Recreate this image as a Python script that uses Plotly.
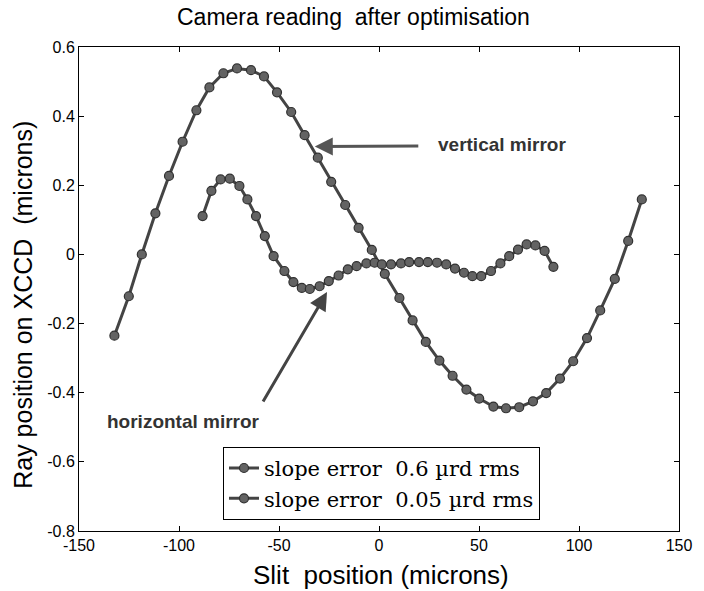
import plotly.graph_objects as go

# Vertical mirror (slope error 0.6 µrd rms)
vert_x = [-132.3, -125.1, -118.6, -111.8, -105.0, -98.2, -91.3, -84.8, -77.8, -71.0,
          -64.0, -57.5, -51.0, -43.9, -37.2, -30.6, -23.9, -16.9, -10.2, -3.6,
          2.9, 10.2, 16.8, 23.4, 30.2, 36.8, 43.7, 50.1, 57.2, 63.5,
          70.1, 77.0, 83.6, 90.5, 97.1, 104.0, 110.6, 117.9, 124.6, 131.4]
vert_y = [-0.235, -0.121, 0.000, 0.119, 0.227, 0.326, 0.417, 0.483, 0.524, 0.538,
          0.533, 0.515, 0.469, 0.412, 0.345, 0.280, 0.210, 0.143, 0.077, 0.013,
          -0.056, -0.126, -0.191, -0.253, -0.307, -0.351, -0.391, -0.417, -0.440, -0.445,
          -0.442, -0.425, -0.401, -0.359, -0.309, -0.242, -0.162, -0.071, 0.039, 0.159]

# Horizontal mirror (slope error 0.05 µrd rms)
hor_x = [-88.2, -83.8, -79.2, -74.6, -69.8, -65.8, -61.5, -57.1, -52.7, -47.3,
         -42.8, -38.6, -34.6, -29.7, -25.1, -20.2, -15.6, -11.2, -6.3, -2.2,
         1.4, 6.0, 11.0, 15.1, 20.0, 24.4, 29.0, 33.6, 38.0, 42.5,
         46.7, 51.1, 56.0, 60.7, 65.1, 69.5, 73.8, 78.2, 82.8, 87.2]
hor_y = [0.111, 0.184, 0.217, 0.219, 0.198, 0.159, 0.111, 0.053, -0.005, -0.048,
         -0.080, -0.097, -0.100, -0.092, -0.077, -0.061, -0.043, -0.034, -0.026, -0.024,
         -0.029, -0.029, -0.026, -0.022, -0.022, -0.022, -0.024, -0.029, -0.041, -0.053,
         -0.063, -0.063, -0.048, -0.026, -0.005, 0.014, 0.029, 0.026, 0.010, -0.036]

series_names = ["slope error\u00a0\u00a00.6 \u00b5rd rms", "slope error\u00a0\u00a00.05 \u00b5rd rms"]

x_ticks = [-150, -100, -50, 0, 50, 100, 150]
x_ticktext = ["-150", "-100", "-50", "0", "50", "100", "150"]
y_ticks = [0.6, 0.4, 0.2, 0, -0.2, -0.4, -0.6, -0.8]
y_ticktext = ["0.6", "0.4", "0.2", "0", "-0.2", "-0.4", "-0.6", "-0.8"]

title_text = "Camera reading\u00a0\u00a0after optimisation"
x_title = "Slit\u00a0\u00a0position (microns)"
y_title = "Ray position on XCCD\u00a0\u00a0(microns)"

line_col = "#444444"
marker_style = dict(size=9, color="#636363", line=dict(color="#303030", width=1.2))

fig = go.Figure()
fig.add_trace(go.Scatter(x=vert_x, y=vert_y, mode="lines+markers", name=series_names[0],
                         line=dict(color=line_col, width=3), marker=marker_style))
fig.add_trace(go.Scatter(x=hor_x, y=hor_y, mode="lines+markers", name=series_names[1],
                         line=dict(color=line_col, width=3), marker=marker_style))

axis_common = dict(showline=True, linecolor="black", linewidth=1, mirror="ticks",
                   ticks="inside", ticklen=5, tickcolor="black", showgrid=False,
                   zeroline=False, tickfont=dict(family="Liberation Sans", size=16, color="black"))

fig.update_layout(
    width=704, height=591,
    margin=dict(l=79, r=16, t=47, b=60),
    paper_bgcolor="white", plot_bgcolor="white",
    showlegend=True,
    legend=dict(x=0.24, y=0.023, xanchor="left", yanchor="bottom",
                bordercolor="black", borderwidth=1, bgcolor="white",
                font=dict(family="DejaVu Serif", size=21, color="black"),
                itemwidth=30, tracegroupgap=0),
    xaxis=dict(range=[-150, 150], tickvals=x_ticks, ticktext=x_ticktext, **axis_common),
    yaxis=dict(range=[-0.8, 0.6], tickvals=y_ticks, ticktext=y_ticktext, **axis_common),
)

# Titles as annotations for precise placement
fig.add_annotation(text=title_text, xref="paper", yref="paper", x=0.458, y=1.062,
                   showarrow=False, font=dict(family="Liberation Sans", size=23, color="black"),
                   xanchor="center", yanchor="middle")
fig.add_annotation(text=x_title, xref="paper", yref="paper", x=0.503, y=-0.091,
                   showarrow=False, font=dict(family="Liberation Sans", size=26, color="black"),
                   xanchor="center", yanchor="middle")
fig.add_annotation(text=y_title, xref="paper", yref="paper", x=-0.0936, y=0.467,
                   showarrow=False, textangle=-90,
                   font=dict(family="Liberation Sans", size=25, color="black"),
                   xanchor="center", yanchor="middle")

# Arrow annotations
fig.add_annotation(x=-32.1, y=0.312, ax=20.4, ay=0.314, xref="x", yref="y",
                   axref="x", ayref="y", text="", showarrow=True,
                   arrowhead=2, arrowsize=1.2, arrowwidth=3, arrowcolor="#555555")
fig.add_annotation(x=-26.0, y=-0.109, ax=-58.4, ay=-0.43, xref="x", yref="y",
                   axref="x", ayref="y", text="", showarrow=True,
                   arrowhead=2, arrowsize=1.2, arrowwidth=3, arrowcolor="#444444")
fig.add_annotation(x=28.7, y=0.318, xref="x", yref="y", text="<b>vertical mirror</b>",
                   showarrow=False, xanchor="left", yanchor="middle",
                   font=dict(family="Liberation Sans", size=19, color="#333333"))
fig.add_annotation(x=-137.2, y=-0.483, xref="x", yref="y", text="<b>horizontal mirror</b>",
                   showarrow=False, xanchor="left", yanchor="middle",
                   font=dict(family="Liberation Sans", size=19, color="#333333"))

fig.write_html("out.html")
